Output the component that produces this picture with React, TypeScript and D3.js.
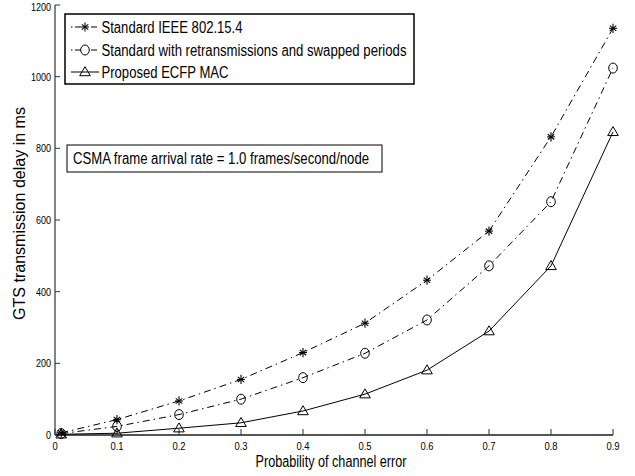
import React from "react";
import * as d3 from "d3";

// Probability of channel error (x) and GTS delay in ms for each scheme
const errorProb = [0.01, 0.1, 0.2, 0.3, 0.4, 0.5, 0.6, 0.7, 0.8, 0.9];
const standardDelay = [6, 43, 95, 155, 230, 312, 432, 569, 832, 1135];
const retransDelay = [4, 24, 57, 100, 160, 228, 321, 472, 651, 1024];
const proposedDelay = [2, 5, 19, 34, 67, 114, 181, 290, 472, 846];

const seriesNames = [
  "Standard IEEE 802.15.4",
  "Standard with retransmissions and swapped periods",
  "Proposed ECFP MAC",
];
const xTicks = [0, 0.1, 0.2, 0.3, 0.4, 0.5, 0.6, 0.7, 0.8, 0.9];
const yTicks = [0, 200, 400, 600, 800, 1000, 1200];

const W = 635;
const H = 476;
const FONT = "'Liberation Sans', Arial, sans-serif";
// horizontal text is drawn slightly condensed
const NARROW = 0.82;

type Marker = "star" | "circle" | "triangle";

function MarkerShape({ kind, x, y }: { kind: Marker; x: number; y: number }) {
  if (kind === "circle") {
    return <ellipse cx={x} cy={y} rx={4.3} ry={5} fill="none" stroke="#000" strokeWidth={1} />;
  }
  if (kind === "triangle") {
    const s = 5.3;
    return (
      <path
        d={`M${x},${y - s} L${x + s},${y + s * 0.7} L${x - s},${y + s * 0.7} Z`}
        fill="none"
        stroke="#000"
        strokeWidth={1}
      />
    );
  }
  const r = 4.6;
  const lines = [0, 55, 125].map((a) => {
    const rad = (a * Math.PI) / 180;
    const rx = a === 0 ? 0 : r * 0.85 * Math.sin(rad);
    return (
      <line
        key={a}
        x1={x - rx}
        y1={y - r * Math.cos(rad)}
        x2={x + rx}
        y2={y + r * Math.cos(rad)}
        stroke="#000"
        strokeWidth={1.1}
      />
    );
  });
  return (
    <g>
      {lines}
      <line x1={x - r * 0.85} y1={y} x2={x + r * 0.85} y2={y} stroke="#000" strokeWidth={1.1} />
    </g>
  );
}

function NarrowText({
  x,
  y,
  size,
  anchor = "start",
  children,
}: {
  x: number;
  y: number;
  size: number;
  anchor?: "start" | "middle" | "end";
  children: React.ReactNode;
}) {
  return (
    <text
      transform={`translate(${x},${y}) scale(${NARROW},1)`}
      fontSize={size}
      textAnchor={anchor}
      fill="#000"
    >
      {children}
    </text>
  );
}

export default function App() {
  const x = d3.scaleLinear().domain([0, 0.9]).range([55, 613]);
  const y = d3.scaleLinear().domain([0, 1200]).range([435, 5]);

  const series: { name: string; values: number[]; marker: Marker; dash?: string }[] = [
    { name: seriesNames[0], values: standardDelay, marker: "star", dash: "7,4,1.5,4" },
    { name: seriesNames[1], values: retransDelay, marker: "circle", dash: "7,4,1.5,4" },
    { name: seriesNames[2], values: proposedDelay, marker: "triangle" },
  ];

  const line = d3
    .line<number>()
    .x((_, i) => x(errorProb[i]))
    .y((v) => y(v));

  const legendRowYs = [27, 50, 72];

  return (
    <svg
      width={W}
      height={H}
      style={{ position: "absolute", left: 0, top: 0, background: "#fff" }}
      fontFamily={FONT}
    >
      <rect x={0} y={0} width={W} height={H} fill="#fff" />

      {/* axes */}
      <line x1={55} y1={5} x2={55} y2={435} stroke="#333" strokeWidth={1.2} />
      <line x1={55} y1={435} x2={613} y2={435} stroke="#555" strokeWidth={1.8} />

      {yTicks.map((t) => (
        <g key={`y${t}`}>
          <line x1={55} x2={60} y1={y(t)} y2={y(t)} stroke="#333" strokeWidth={1} />
          <NarrowText x={51} y={Math.max(y(t) + 4, 11)} size={11} anchor="end">
            {t}
          </NarrowText>
        </g>
      ))}
      {xTicks.map((t) => (
        <g key={`x${t}`}>
          <line x1={x(t)} x2={x(t)} y1={435} y2={429} stroke="#333" strokeWidth={1} />
          <NarrowText x={x(t)} y={449.5} size={11.5} anchor="middle">
            {t}
          </NarrowText>
        </g>
      ))}

      <text
        x={331}
        y={467}
        fontSize={16}
        textAnchor="middle"
        fill="#000"
        textLength={151}
        lengthAdjust="spacingAndGlyphs"
      >
        Probability of channel error
      </text>
      <text
        transform={`translate(25,213.5) rotate(-90)`}
        fontSize={16}
        textAnchor="middle"
        fill="#000"
        textLength={213}
        lengthAdjust="spacingAndGlyphs"
      >
        GTS transmission delay in ms
      </text>

      {/* series */}
      {series.map((s) => (
        <g key={s.name}>
          <path
            d={line(s.values) || ""}
            fill="none"
            stroke="#000"
            strokeWidth={1}
            strokeDasharray={s.dash}
          />
          {s.values.map((v, i) => (
            <MarkerShape key={i} kind={s.marker} x={x(errorProb[i])} y={y(v)} />
          ))}
        </g>
      ))}

      {/* legend */}
      <rect x={65} y={14} width={349} height={70} fill="#fff" stroke="#000" strokeWidth={1.5} />
      {series.map((s, i) => (
        <g key={`leg${i}`}>
          <line
            x1={71}
            x2={99}
            y1={legendRowYs[i]}
            y2={legendRowYs[i]}
            stroke="#000"
            strokeWidth={1}
            strokeDasharray={s.dash ? "1.5,2.5,6,10,6,2.5,1.5" : undefined}
          />
          <MarkerShape kind={s.marker} x={85} y={legendRowYs[i]} />
          <text
            x={101.5}
            y={legendRowYs[i] + 5.8}
            fontSize={16}
            fill="#000"
            textLength={[141, 305, 127][i]}
            lengthAdjust="spacingAndGlyphs"
          >
            {s.name}
          </text>
        </g>
      ))}

      {/* annotation */}
      <rect x={67} y={145} width={315} height={27} fill="#fff" stroke="#000" strokeWidth={1} />
      <text
        x={73}
        y={163.5}
        fontSize={16}
        fill="#000"
        textLength={296}
        lengthAdjust="spacingAndGlyphs"
      >
        CSMA frame arrival rate = 1.0 frames/second/node
      </text>
    </svg>
  );
}
